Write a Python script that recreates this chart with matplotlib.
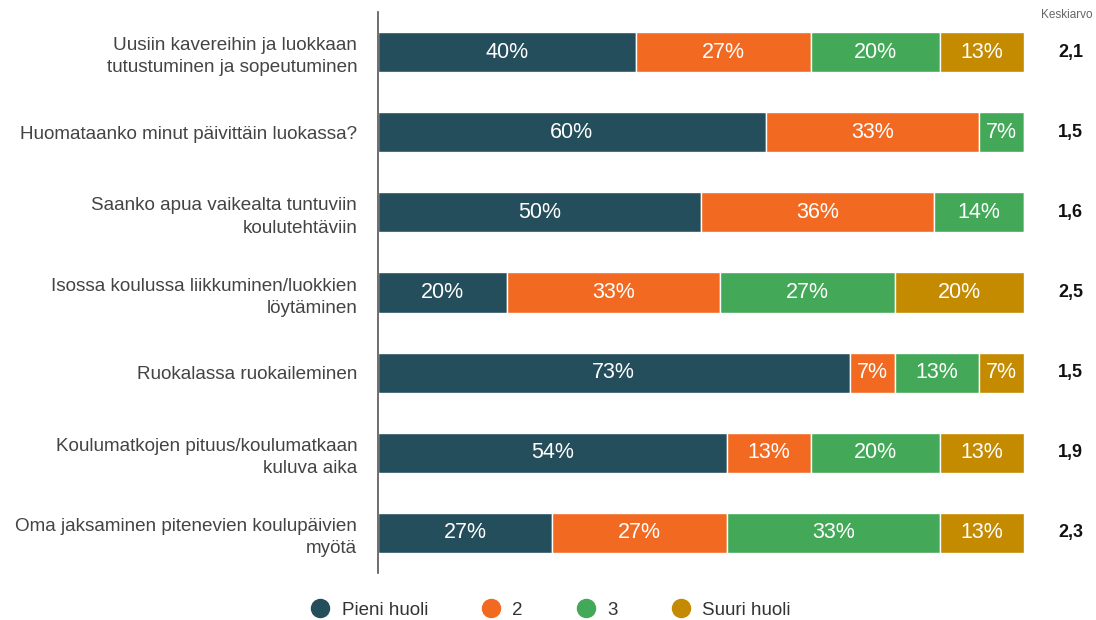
import matplotlib
matplotlib.use("Agg")
import matplotlib.pyplot as plt
from matplotlib.lines import Line2D

plt.rcParams['font.family'] = ['Liberation Sans', 'DejaVu Sans']

categories = [
    "Uusiin kavereihin ja luokkaan\ntutustuminen ja sopeutuminen",
    "Huomataanko minut päivittäin luokassa?",
    "Saanko apua vaikealta tuntuviin\nkoulutehtäviin",
    "Isossa koulussa liikkuminen/luokkien\nlöytäminen",
    "Ruokalassa ruokaileminen",
    "Koulumatkojen pituus/koulumatkaan\nkuluva aika",
    "Oma jaksaminen pitenevien koulupäivien\nmyötä",
]
series_names = ["Pieni huoli", "2", "3", "Suuri huoli"]
pieni = [40, 60, 50, 20, 73, 54, 27]
kaksi = [27, 33, 36, 33, 7, 13, 27]
kolme = [20, 7, 14, 27, 13, 20, 33]
suuri = [13, 0, 0, 20, 7, 13, 13]
averages = ["2,1", "1,5", "1,6", "2,5", "1,5", "1,9", "2,3"]
avg_title = "Keskiarvo"

colors = ["#244e5c", "#f26a22", "#43a857", "#c48a00"]

fig = plt.figure(figsize=(10.96, 6.2), dpi=100)
ax = fig.add_axes([378/1096, 1-573/620, (1024-378)/1096, (573-12)/620])

data = [pieni, kaksi, kolme, suuri]
ys = list(range(len(categories)))
left = [0]*len(categories)
for s, (vals, col) in enumerate(zip(data, colors)):
    ax.barh(ys, vals, left=left, height=0.5, color=col, edgecolor="white", linewidth=1)
    for i, v in enumerate(vals):
        if v > 0:
            ax.text(left[i] + v/2, ys[i], f"{v}%", ha="center", va="center",
                    color="white", fontsize=15.5)
    left = [l + v for l, v in zip(left, vals)]

ax.set_xlim(0, 100)
ax.set_ylim(len(categories) - 0.5, -0.5)
ax.set_yticks(ys)
ax.set_yticklabels(categories, fontsize=13.6, color="#444444", ha="right", linespacing=1.4)
ax.tick_params(axis="y", length=0, pad=15)
ax.set_xticks([])
for sp in ["top", "right", "bottom"]:
    ax.spines[sp].set_visible(False)
ax.spines["left"].set_color("#555555")
ax.spines["left"].set_linewidth(1.2)

for i, a in enumerate(averages):
    ax.text(107.2, ys[i], a, ha="center", va="center", fontsize=13,
            fontweight="bold", color="#111111")
ax.text(106.6, -0.46, avg_title, ha="center", va="center", fontsize=8.5,
        color="#666666", clip_on=False)

handles = [Line2D([0], [0], marker="o", linestyle="", markersize=13,
                  markerfacecolor=c, markeredgecolor=c) for c in colors]
fig.legend(handles, series_names, loc="center", bbox_to_anchor=(546/1096, 1-610/620),
           ncol=4, frameon=False, fontsize=13.5, handletextpad=0.15, columnspacing=2.35,
           labelcolor="#333333")

fig.savefig("out.png", dpi=100)
